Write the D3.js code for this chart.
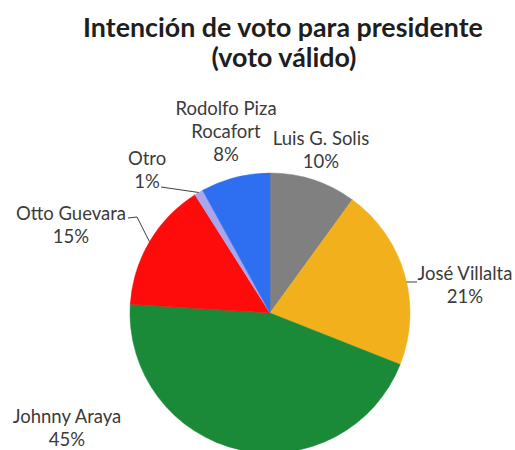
<!DOCTYPE html>
<html>
<head>
<meta charset="utf-8">
<script src="https://cdn.jsdelivr.net/npm/d3@7/dist/d3.min.js"></script>
<style>
  html, body { margin: 0; padding: 0; background: #ffffff; }
  svg { display: block; }
</style>
</head>
<body>
<svg id="chart" width="515" height="450"></svg>
<script>
// ---- data ----
const titleLines = ["Intención de voto para presidente", "(voto válido)"];
const candidates = ["Luis G. Solis", "José Villalta", "Johnny Araya", "Otto Guevara", "Otro", "Rodolfo Piza Rocafort"];
const values = [10, 21, 45, 15, 1, 8];
const labelLines = [
  ["Luis  G. Solis", "10%"],
  ["José Villalta", "21%"],
  ["Johnny Araya", "45%"],
  ["Otto Guevara", "15%"],
  ["Otro", "1%"],
  ["Rodolfo Piza", "Rocafort", "8%"]
];
const colors = ["#808080", "#f2b11c", "#1a8a38", "#fe0b0b", "#aaa6ee", "#2e6ef0"];

// ---- layout (positions / styles) ----
const W = 515, H = 450;
const cx = 270, cy = 313, R = 140;
const font = "Lato, 'Open Sans', sans-serif";
const textColor = "#3b3b3b";
const lineH = 23;
const titleLayout = [{ x: 283, y: 37 }, { x: 284, y: 67 }];
// label placement: centre x and first baseline y
const labelLayout = [
  { x: 321, y: 145 },
  { x: 465, y: 280 },
  { x: 67,  y: 423 },
  { x: 71,  y: 220 },
  { x: 147, y: 165 },
  { x: 226, y: 115 }
];

const svg = d3.select("#chart");

// title
svg.append("g").selectAll("text")
  .data(titleLines)
  .join("text")
  .attr("x", (d, i) => titleLayout[i].x)
  .attr("y", (d, i) => titleLayout[i].y)
  .attr("text-anchor", "middle")
  .attr("font-family", font)
  .attr("font-weight", "bold")
  .attr("font-size", 26.8)
  .attr("fill", "#1e1e1e")
  .text(d => d);

// pie
const pie = d3.pie().sort(null).value(d => d)(values);
const arc = d3.arc().innerRadius(0).outerRadius(R);
const edgeArc = d3.arc().innerRadius(R).outerRadius(R);

const g = svg.append("g").attr("transform", `translate(${cx},${cy})`);
g.selectAll("path.slice")
  .data(pie)
  .join("path")
  .attr("class", "slice")
  .attr("d", arc)
  .attr("fill", (d, i) => colors[i])
  .attr("stroke", (d, i) => colors[i])
  .attr("stroke-width", 0.5);

// leader lines (label end -> slice edge)
function edgePoint(i) {
  const c = edgeArc.centroid(pie[i]);
  return [cx + c[0], cy + c[1]];
}
const leaders = [];
{
  const e = edgePoint(4); // Otro
  leaders.push([[161, 187], e]);
}
{
  const e = edgePoint(3); // Otto Guevara
  leaders.push([[128, 218], [137, 217], e]);
}
{
  const y = 282; // José Villalta: horizontal to the circle edge
  const ex = cx + Math.sqrt(R * R - (y - cy) * (y - cy));
  leaders.push([[417, y], [ex, y]]);
}
svg.append("g").selectAll("path")
  .data(leaders)
  .join("path")
  .attr("d", d => d3.line()(d))
  .attr("fill", "none")
  .attr("stroke", "#404040")
  .attr("stroke-width", 1);

// labels
const labels = svg.append("g");
labelLines.forEach((lines, i) => {
  const t = labels.append("text")
    .attr("text-anchor", "middle")
    .attr("font-family", font)
    .attr("font-size", 18.5)
    .attr("fill", textColor);
  lines.forEach((ln, j) => {
    t.append("tspan")
      .attr("x", labelLayout[i].x)
      .attr("y", labelLayout[i].y + j * lineH)
      .text(ln);
  });
});
</script>
</body>
</html>
